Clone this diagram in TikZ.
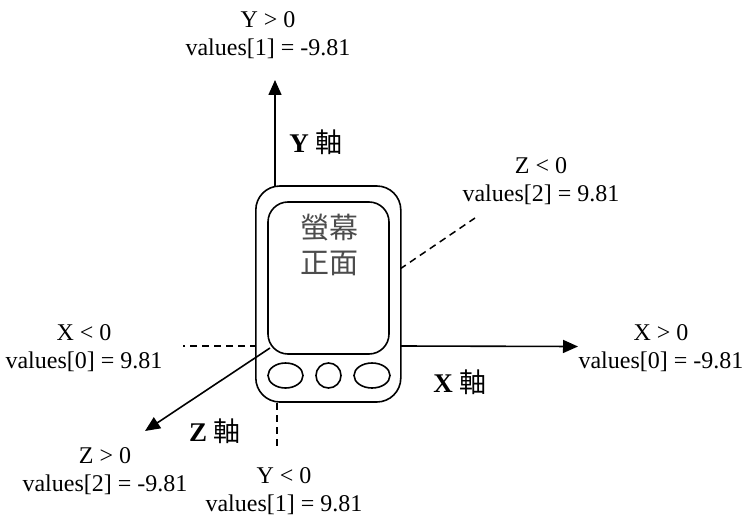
\documentclass[tikz,border=0pt]{standalone}
\usepackage{fontspec}
\setmainfont{Liberation Serif}
\newfontfamily\cjk{Noto Sans CJK TC}
\usetikzlibrary{arrows.meta,shapes.geometric}
\tikzset{
 lbl/.style={font=\fontsize{24}{27.8}\selectfont,align=center,inner sep=0pt},
 axl/.style={font=\fontsize{27}{30}\selectfont,inner sep=0pt},
 ax/.style={line width=1.6pt,-{Triangle[length=15pt,width=13pt]}},
 neg/.style={line width=1.5pt,dash pattern=on 7pt off 5pt},
 body/.style={draw,line width=1.6pt,fill=white}
}
\begin{document}
\begin{tikzpicture}[x=1pt,y=-1pt]
\useasboundingbox (0,0) rectangle (742,519);
\coordinate (yt) at (275,80); \coordinate (yb) at (275,186);
\coordinate (xa) at (400,346); \coordinate (xt) at (578,346.5);
\coordinate (za) at (270,348); \coordinate (zt) at (145,431);
\coordinate (zn) at (400,269); \coordinate (ze) at (475,218);
\coordinate (xn) at (183,346); \coordinate (xe) at (257,346);
\coordinate (yn) at (277,403); \coordinate (ye) at (277,450);
\draw[neg] (zn)--(ze); \draw[neg] (xe)--(xn); \draw[neg] (yn)--(ye);
\draw[ax] (yb)--(yt); \draw[ax] (xa)--(xt);
\node[body,minimum width=145pt,minimum height=216pt,rounded corners=24pt] (phone) at (328.3,294) {};
\node[body,minimum width=121pt,minimum height=152pt,rounded corners=20pt] (screen) at (328.5,278) {};
\draw[ax] (za)--(zt);
\node[body,ellipse,minimum width=35pt,minimum height=25pt,inner sep=0pt] (b1) at (285.5,375.5) {};
\node[body,circle,minimum size=25pt,inner sep=0pt] (b2) at (328.5,375.5) {};
\node[body,ellipse,minimum width=36pt,minimum height=25pt,inner sep=0pt] (b3) at (372,375.5) {};
\node[font=\fontsize{29}{35}\selectfont\cjk,align=center,inner sep=0pt,text=black!70] (s) at (329,245) {螢幕\\正面};
\node[lbl] (l1) at (268,35) {Y > 0\\values[1] = -9.81};
\node[lbl] (l2) at (541,181) {Z < 0\\values[2] = 9.81};
\node[lbl] (l3) at (661,348) {X > 0\\values[0] = -9.81};
\node[lbl] (l4) at (84,348) {X < 0\\values[0] = 9.81};
\node[lbl] (l5) at (105,471) {Z > 0\\values[2] = -9.81};
\node[lbl] (l6) at (284,491.5) {Y < 0\\values[1] = 9.81};
\node[axl] (a1) at (316,142) {\textbf{Y} {\cjk 軸}};
\node[axl] (a2) at (460,382) {\textbf{X} {\cjk 軸}};
\node[axl] (a3) at (215,431) {\textbf{Z} {\cjk 軸}};
\end{tikzpicture}
\end{document}
